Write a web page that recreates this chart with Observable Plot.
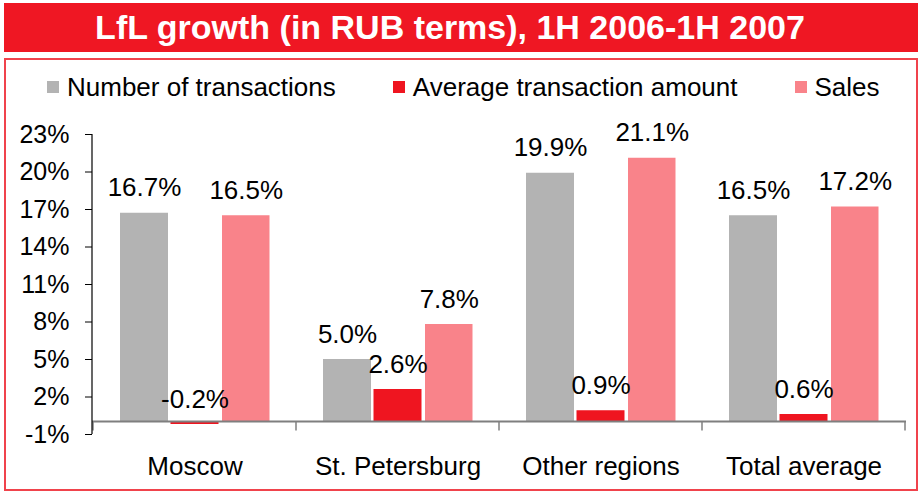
<!DOCTYPE html>
<html>
<head>
<meta charset="utf-8">
<script src="https://cdn.jsdelivr.net/npm/d3@7"></script>
<script src="https://cdn.jsdelivr.net/npm/@observablehq/plot@0.6"></script>
<style>
  body { margin: 0; background: #fff; font-family: "Liberation Sans", Arial, sans-serif; }
  #wrap { position: relative; width: 918px; height: 492px; overflow: hidden; background: #fff; }
  #chart { position: absolute; left: 0; top: 0; }
  #title { position: absolute; left: 4px; top: 3px; width: 914px; height: 49px; background: #ef1723; }
  #title span { position: absolute; left: -4px; top: 0; width: 900px; text-align: center; color: #fff;
    font-weight: bold; font-size: 34px; line-height: 49px; white-space: nowrap; }
  #box { position: absolute; left: 4px; top: 58px; width: 910px; height: 429px; border: 2px solid #f0434c; pointer-events: none; }
  #legend { position: absolute; left: 47px; top: 72px; height: 30px; display: flex; align-items: center;
    font-size: 26px; line-height: 30px; color: #000; white-space: nowrap; }
  #legend .item { display: flex; align-items: center; margin-right: 57px; }
  #legend .sw { width: 12px; height: 12px; margin-right: 8px; }
</style>
</head>
<body>
<div id="wrap">
  <div id="chart"></div>
  <div id="box"></div>
  <div id="title"><span id="titleText"></span></div>
  <div id="legend"></div>
</div>
<script>
const titleText = "LfL growth (in RUB terms), 1H 2006-1H 2007";
const regions = ["Moscow", "St. Petersburg", "Other regions", "Total average"];
const seriesNames = ["Number of transactions", "Average transaction amount", "Sales"];
const numberOfTransactions = [16.7, 5.0, 19.9, 16.5];
const averageTransactionAmount = [-0.2, 2.6, 0.9, 0.6];
const sales = [16.5, 7.8, 21.1, 17.2];
const yTicks = [-1, 2, 5, 8, 11, 14, 17, 20, 23];
const seriesColors = ["#b3b3b3", "#ef1520", "#f9838a"];

const seriesValues = [numberOfTransactions, averageTransactionAmount, sales];
const rows = seriesNames.flatMap((s, k) =>
  regions.map((r, i) => ({region: r, series: s, value: seriesValues[k][i]}))
);

document.getElementById("titleText").textContent = titleText;
const legend = document.getElementById("legend");
seriesNames.forEach((s, k) => {
  const it = document.createElement("div");
  it.className = "item";
  const sw = document.createElement("div");
  sw.className = "sw";
  sw.style.background = seriesColors[k];
  const t = document.createElement("span");
  t.textContent = s;
  it.appendChild(sw); it.appendChild(t);
  legend.appendChild(it);
});

// per-series placement inside each region band (styling)
const insets = [[27, 128], [77.5, 77.5], [129, 26.5]];
const labelDx = [-50.5, 0, 51.25];

function frameLines(index, scales, values, dimensions) {
  const {x, y} = scales;
  const g = d3.create("svg:g");
  const {marginLeft, width, marginRight} = dimensions;
  const bw = typeof x.bandwidth === "function" ? x.bandwidth() : (width - marginLeft - marginRight) / regions.length;
  const xs = regions.map(r => x(r)).concat([x(regions[regions.length - 1]) + bw]);
  const y0 = y(0);
  g.append("line").attr("x1", marginLeft).attr("x2", width - marginRight).attr("y1", y0).attr("y2", y0)
    .attr("stroke", "#7f7f7f").attr("stroke-width", 2);
  xs.forEach(v => {
    g.append("line").attr("x1", v).attr("x2", v).attr("y1", y0).attr("y2", y0 + 9)
      .attr("stroke", "#7f7f7f").attr("stroke-width", 1.5);
  });
  g.append("line").attr("x1", marginLeft).attr("x2", marginLeft)
    .attr("y1", y(yTicks[0])).attr("y2", y(yTicks[yTicks.length - 1]))
    .attr("stroke", "#000").attr("stroke-width", 1.2);
  return g.node();
}

const marks = [];
seriesNames.forEach((s, k) => {
  const data = rows.filter(d => d.series === s);
  marks.push(Plot.barY(data, {
    x: "region", y: "value", fill: "series",
    insetLeft: insets[k][0], insetRight: insets[k][1]
  }));
});
seriesNames.forEach((s, k) => {
  const data = rows.filter(d => d.series === s);
  marks.push(Plot.text(data, {
    x: "region", y: "value", text: d => d.value.toFixed(1) + "%",
    dx: labelDx[k], dy: -17, lineAnchor: "bottom", fontSize: 26, fill: "#000"
  }));
});
marks.push(frameLines);
marks.push(Plot.axisY(yTicks, {tickSize: 7, tickPadding: 16, fontSize: 25, tickFormat: d => `${d}%`, stroke: "#000"}));
marks.push(Plot.axisX({tickSize: 0, tickPadding: 22, fontSize: 26, lineAnchor: "top"}));

const chart = Plot.plot({
  width: 918,
  height: 492,
  marginTop: 134,
  marginBottom: 58,
  marginLeft: 92,
  marginRight: 12,
  x: {domain: regions, padding: 0, label: null},
  y: {domain: [-1, 23], label: null},
  color: {domain: seriesNames, range: seriesColors},
  style: {background: "none", fontFamily: "'Liberation Sans', Arial, sans-serif", color: "#000", overflow: "visible"},
  marks
});
document.getElementById("chart").appendChild(chart);
</script>
</body>
</html>
